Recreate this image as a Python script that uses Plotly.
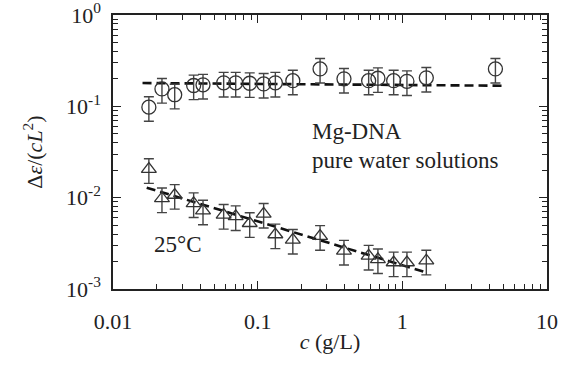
import plotly.graph_objects as go

# ---- data ----
c_upper = [0.0177, 0.0218, 0.0267, 0.0361, 0.0419, 0.0582, 0.0705, 0.0881, 0.110, 0.1325,
           0.175, 0.270, 0.395, 0.585, 0.678, 0.871, 1.076, 1.465, 4.4]
v_upper = [0.098, 0.155, 0.134, 0.169, 0.172, 0.181, 0.181, 0.179, 0.176, 0.181,
           0.191, 0.257, 0.200, 0.191, 0.203, 0.191, 0.188, 0.205, 0.257]

c_lower = [0.0177, 0.0218, 0.0267, 0.0361, 0.0419, 0.0582, 0.0705, 0.0881, 0.110, 0.1325,
           0.175, 0.270, 0.395, 0.585, 0.678, 0.871, 1.076, 1.465]
v_lower = [0.0205, 0.0098, 0.0107, 0.00867, 0.00721, 0.00647, 0.00625, 0.00525, 0.00664, 0.00395,
           0.00345, 0.00380, 0.00262, 0.00231, 0.00211, 0.00195, 0.00195, 0.00204]

err_percent = 30

fit_upper_x = [0.016, 5.2]
fit_upper_y = [0.180, 0.168]
fit_lower_x = [0.0171, 1.50]
fit_lower_y = [0.01286, 0.0015]

x_tickvals = [0.01, 0.1, 1, 10]
x_ticktext = ["0.01", "0.1", "1", "10"]
y_tickvals = [1, 0.1, 0.01, 0.001]
y_ticktext = ["10<sup>0</sup>", "10<sup>-1</sup>", "10<sup>-2</sup>", "10<sup>-3</sup>"]

def minor_vals(lo_exp, hi_exp):
    out = []
    for e in range(lo_exp, hi_exp):
        for m in range(2, 10):
            out.append(m * 10 ** e)
    return out

FONT = "Liberation Serif, Times New Roman, serif"
FS = 22
INK = "#222222"
MARK = "#333333"

fig = go.Figure()

fig.add_trace(go.Scatter(
    x=fit_upper_x, y=fit_upper_y, mode="lines",
    line=dict(color="#111111", width=2.6, dash="9px,5px"), showlegend=False))
fig.add_trace(go.Scatter(
    x=fit_lower_x, y=fit_lower_y, mode="lines",
    line=dict(color="#111111", width=2.6, dash="9px,5px"), showlegend=False))

fig.add_trace(go.Scatter(
    x=c_upper, y=v_upper, mode="markers",
    marker=dict(symbol="circle-open", size=14, color=MARK, line=dict(width=1.3, color=MARK)),
    error_y=dict(type="percent", value=err_percent, color="#444444", thickness=1.4, width=5),
    showlegend=False))
fig.add_trace(go.Scatter(
    x=c_lower, y=v_lower, mode="markers",
    marker=dict(symbol="triangle-up-open", size=13, color=MARK, line=dict(width=1.3, color=MARK)),
    error_y=dict(type="percent", value=err_percent, color="#444444", thickness=1.4, width=5),
    showlegend=False))

axis_common = dict(
    type="log", showgrid=False, zeroline=False, automargin=False,
    showline=True, linecolor=INK, linewidth=1.5, mirror="allticks",
    ticks="inside", ticklen=8, tickwidth=1.2, tickcolor=INK,
    tickfont=dict(family=FONT, size=FS, color=INK),
    ticklabeloverflow="allow",
)

fig.update_xaxes(
    **axis_common, range=[-2, 1], tickmode="array",
    tickvals=x_tickvals, ticktext=x_ticktext,
    minor=dict(tickmode="array", tickvals=minor_vals(-2, 1), ticks="inside", ticklen=5,
               tickwidth=1.2, tickcolor=INK),
    title=dict(text="<i>c</i> (g/L)", font=dict(family=FONT, size=FS, color=INK), standoff=0),
    ticklabelstandoff=12,
)
fig.update_yaxes(
    **axis_common, range=[-3, 0], tickmode="array",
    tickvals=y_tickvals, ticktext=y_ticktext,
    minor=dict(tickmode="array", tickvals=minor_vals(-3, 0), ticks="inside", ticklen=5,
               tickwidth=1.2, tickcolor=INK),
    title=dict(text="Δ<i>ε</i>/(<i>cL</i><sup>2</sup>)", font=dict(family=FONT, size=FS, color=INK),
               standoff=17),
    ticklabelstandoff=6,
)

fig.add_annotation(xref="paper", yref="paper", x=0.453, y=0.576, xanchor="left", yanchor="middle",
                   text="Mg-DNA", showarrow=False, font=dict(family=FONT, size=23, color=INK))
fig.add_annotation(xref="paper", yref="paper", x=0.453, y=0.470, xanchor="left", yanchor="middle",
                   text="pure water solutions", showarrow=False, font=dict(family=FONT, size=23, color=INK))
fig.add_annotation(xref="paper", yref="paper", x=0.089, y=0.164, xanchor="left", yanchor="middle",
                   text="25°C", showarrow=False, font=dict(family=FONT, size=23, color=INK))

fig.update_layout(
    width=561, height=367,
    margin=dict(l=113, r=14, t=15, b=78),
    paper_bgcolor="white", plot_bgcolor="white",
)

# remove the default 8px page margin so the figure fills the window exactly
fig.write_html("out.html", config={"displayModeBar": False},
               post_script="document.body.style.margin='0';")
